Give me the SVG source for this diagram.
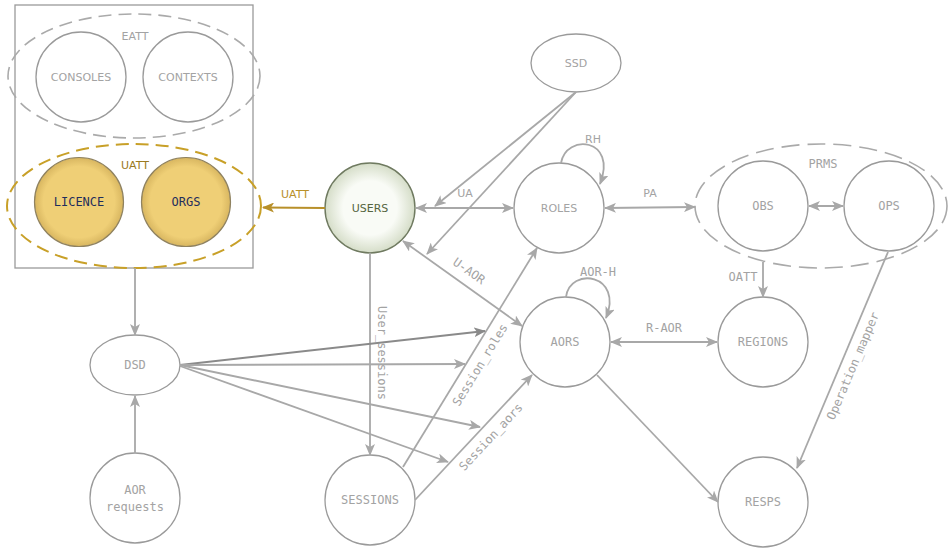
<svg xmlns="http://www.w3.org/2000/svg" width="949" height="548" viewBox="0 0 949 548">
<defs>
<style>
.n{fill:#fff;stroke:#9a9a9a;stroke-width:1.3}
.t{font-family:"DejaVu Sans Mono","Liberation Mono",monospace;font-size:12px;fill:#a3a3a3;text-anchor:middle;dominant-baseline:central}
.s{font-family:"DejaVu Sans","Liberation Sans",sans-serif;font-size:11px;fill:#a3a3a3;text-anchor:middle;dominant-baseline:central}
.e{fill:none;stroke:#a8a8a8;stroke-width:1.8}
.ea{marker-end:url(#ah)}
.eb{marker-start:url(#ah);marker-end:url(#ah)}
</style>
<marker id="ah" markerWidth="12" markerHeight="10" refX="11" refY="5" orient="auto-start-reverse" markerUnits="userSpaceOnUse"><path d="M0,0 L12,5 L0,10 L3,5 z" fill="#a8a8a8"/></marker>
<marker id="ahd" markerWidth="12" markerHeight="10" refX="11" refY="5" orient="auto" markerUnits="userSpaceOnUse"><path d="M0,0 L12,5 L0,10 L3,5 z" fill="#8a8a8a"/></marker>
<marker id="ahg" markerWidth="12" markerHeight="10" refX="11" refY="5" orient="auto" markerUnits="userSpaceOnUse"><path d="M0,0 L12,5 L0,10 L3,5 z" fill="#b8902a"/></marker>
<radialGradient id="gold" cx="50%" cy="50%" r="50%"><stop offset="0.8" stop-color="#efcf76"/><stop offset="1" stop-color="#d8b660"/></radialGradient>
<radialGradient id="green" cx="50%" cy="50%" r="50%"><stop offset="0.6" stop-color="#f9fbf6"/><stop offset="1" stop-color="#d5ddc8"/></radialGradient>
</defs>

<g id="frame">
<rect x="15" y="5" width="238" height="263" fill="#fff" stroke="#9a9a9a" stroke-width="1.3"/>
</g>

<g id="eatt">
<ellipse cx="134" cy="76" rx="126" ry="62" fill="none" stroke="#aaa" stroke-width="1.6" stroke-dasharray="13 7"/>
<text class="s" x="135" y="36">EATT</text>
</g>
<g id="consoles"><circle class="n" cx="81" cy="77" r="45"/><text class="s" x="81" y="77">CONSOLES</text></g>
<g id="contexts"><circle class="n" cx="188" cy="77" r="45"/><text class="s" x="188" y="77">CONTEXTS</text></g>

<g id="uatt">
<ellipse cx="134" cy="206" rx="127" ry="62" fill="none" stroke="#c8a028" stroke-width="2" stroke-dasharray="13 7"/>
<text class="s" x="135" y="165" style="fill:#9a7a22">UATT</text>
</g>
<g id="licence"><circle cx="79" cy="202" r="44.5" fill="url(#gold)" stroke="#8f8260" stroke-width="1.2"/><text class="t" x="79" y="202" style="fill:#1f2d5c">LICENCE</text></g>
<g id="orgs"><circle cx="186" cy="202" r="44.5" fill="url(#gold)" stroke="#8f8260" stroke-width="1.2"/><text class="t" x="186" y="202" style="fill:#1f2d5c">ORGS</text></g>

<g id="users"><circle cx="370" cy="208" r="45" fill="url(#green)" stroke="#6f7a60" stroke-width="1.4"/><text class="s" x="370" y="208" style="fill:#55653f">USERS</text></g>
<g id="ssd"><ellipse class="n" cx="576" cy="63" rx="45" ry="29"/><text class="s" x="576" y="63">SSD</text></g>
<g id="roles"><circle class="n" cx="559" cy="208" r="45"/><text class="s" x="559" y="208">ROLES</text></g>

<g id="prms">
<ellipse cx="821" cy="206" rx="126" ry="62" fill="none" stroke="#aaa" stroke-width="1.6" stroke-dasharray="18 8"/>
<text class="t" x="823" y="164">PRMS</text>
</g>
<g id="obs"><circle class="n" cx="763" cy="206" r="45"/><text class="t" x="763" y="206">OBS</text></g>
<g id="ops"><circle class="n" cx="889" cy="206" r="45"/><text class="t" x="889" y="206">OPS</text></g>
<g id="regions"><circle class="n" cx="763" cy="342" r="45"/><text class="t" x="763" y="342">REGIONS</text></g>
<g id="aors"><circle class="n" cx="565" cy="342" r="45"/><text class="t" x="565" y="342">AORS</text></g>
<g id="resps"><circle class="n" cx="763" cy="502" r="45"/><text class="t" x="763" y="502">RESPS</text></g>
<g id="dsd"><ellipse class="n" cx="135" cy="365" rx="45" ry="30"/><text class="t" x="135" y="365">DSD</text></g>
<g id="aor-requests"><circle class="n" cx="135" cy="498" r="45"/><text class="t" x="135" y="490">AOR</text><text class="t" x="135" y="507">requests</text></g>
<g id="sessions"><circle class="n" cx="370" cy="500" r="45"/><text class="t" x="370" y="500">SESSIONS</text></g>

<g id="connectors">
<line x1="325" y1="208" x2="263" y2="207.5" stroke="#b8902a" stroke-width="1.8" marker-end="url(#ahg)"/>
<text class="s" x="295" y="194" style="fill:#b8902a">UATT</text>

<line class="e eb" x1="416" y1="208" x2="513" y2="208"/>
<text class="s" x="465" y="193">UA</text>
<line class="e ea" x1="576" y1="92" x2="435" y2="206"/>
<line class="e ea" x1="576" y1="92" x2="427" y2="254"/>

<path class="e ea" d="M561,163 C566,133 618,138 600,184"/>
<text class="s" x="593" y="139">RH</text>

<line class="e eb" x1="605" y1="208" x2="695" y2="207"/>
<text class="s" x="650" y="193">PA</text>

<line class="e eb" x1="809" y1="206" x2="843" y2="206"/>

<line class="e ea" x1="763" y1="262" x2="763" y2="297"/>
<text class="t" x="743" y="277">OATT</text>

<line class="e eb" x1="403" y1="241" x2="522" y2="326"/>
<text class="t" transform="translate(469,271) rotate(35)" x="0" y="0">U-AOR</text>

<path class="e ea" d="M566,297 C570,266 624,274 606,318"/>
<text class="t" x="598" y="272">AOR-H</text>

<line class="e eb" x1="611" y1="342" x2="717" y2="342"/>
<text class="t" x="664" y="328">R-AOR</text>

<line class="e ea" x1="888" y1="252" x2="797" y2="468"/>
<text class="t" transform="translate(853,366) rotate(-67)" x="0" y="0">Operation_mapper</text>

<line class="e ea" x1="597" y1="375" x2="718" y2="502"/>

<line class="e ea" x1="370" y1="253" x2="370" y2="455"/>
<text class="t" transform="translate(382,353) rotate(90)" x="0" y="0">User_sessions</text>

<line class="e ea" x1="403" y1="467" x2="537" y2="248"/>
<text class="t" transform="translate(480,365) rotate(-58.5)" x="0" y="0">Session_roles</text>

<line class="e ea" x1="415" y1="500" x2="532" y2="375"/>
<text class="t" transform="translate(491,437) rotate(-47)" x="0" y="0">Session_aors</text>

<line x1="180" y1="365" x2="485" y2="331" stroke="#8a8a8a" stroke-width="1.8" marker-end="url(#ahd)"/>
<line class="e ea" x1="180" y1="365" x2="465" y2="364"/>
<line class="e ea" x1="180" y1="365" x2="480" y2="427"/>
<line class="e ea" x1="180" y1="366" x2="448" y2="462"/>

<line class="e ea" x1="135" y1="268" x2="135" y2="335"/>
<line class="e ea" x1="135" y1="453" x2="135" y2="396"/>
</g>
</svg>
